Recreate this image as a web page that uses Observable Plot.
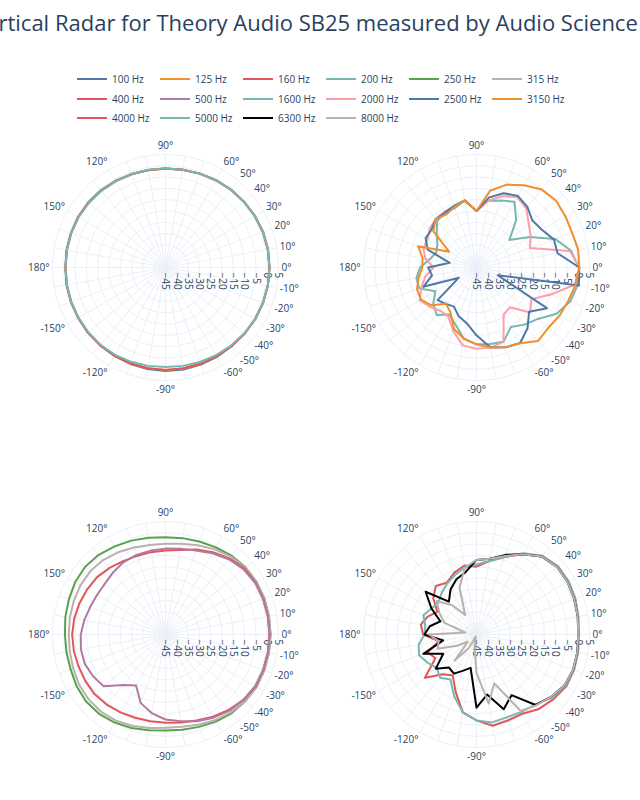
<!DOCTYPE html>
<html>
<head>
<meta charset="utf-8">
<script src="https://cdn.jsdelivr.net/npm/d3@7"></script>
<script src="https://cdn.jsdelivr.net/npm/@observablehq/plot@0.6"></script>
<style>
  html, body { margin: 0; padding: 0; background: #fff; overflow: hidden; }
  #root { position: relative; width: 640px; height: 800px; overflow: hidden; font-family: "Open Sans", sans-serif; color: #2a3f5f; }
  #title { position: absolute; left: -27px; top: 7px; font-size: 22px; white-space: nowrap; color: #2a3f5f; }
  .leg { position: absolute; display: flex; align-items: center; font-size: 10px; white-space: nowrap; }
  .leg svg { margin-right: 5px; }
  .panel { position: absolute; }
</style>
</head>
<body>
<div id="root">
  <div id="title">Vertical Radar for Theory Audio SB25 measured by Audio Science Review</div>
</div>
<script>
// ---------------- data ----------------
const angles = [0,10,20,30,40,50,60,70,80,90,100,110,120,130,140,150,160,170,180,190,200,210,220,230,240,250,260,270,280,290,300,310,320,330,340,350];

const frequencies = ["100 Hz","125 Hz","160 Hz","200 Hz","250 Hz","315 Hz","400 Hz","500 Hz","1600 Hz","2000 Hz","2500 Hz","3150 Hz","4000 Hz","5000 Hz","6300 Hz","8000 Hz"];
const colors = ["#4E79A7","#F28E2B","#E15759","#76B7B2","#59A14F","#BAB0AC","#E15759","#B07AA1","#76B7B2","#FF9DA7","#4E79A7","#F28E2B","#E15759","#76B7B2","#000000","#BAB0AC"];

const hz100  = [1,1,0.9,0.6,0.3,0,-0.4,-0.8,-1.1,-1.2,-1.2,-1.1,-0.9,-0.7,-0.5,-0.4,-0.5,-0.6,-0.7,-0.6,-0.5,-0.4,-0.2,0,0.2,0.4,0.6,0.8,0.8,0.7,0.6,0.5,0.6,0.8,0.9,1];
const hz125  = [1,1,0.9,0.6,0.3,0,-0.4,-0.8,-1.1,-1.3,-1.3,-1.1,-0.9,-0.7,-0.5,-0.5,-0.6,-0.7,-0.8,-0.7,-0.6,-0.5,-0.3,-0.1,0.1,0.2,0.3,0.3,0.4,0.4,0.4,0.4,0.6,0.8,0.9,1];
const hz160  = [1,1.1,1,0.7,0.3,0,-0.4,-0.8,-1.1,-1.2,-1.2,-1,-0.7,-0.4,-0.3,-0.3,-0.5,-0.6,-0.7,-0.6,-0.5,-0.4,-0.2,0,0.1,0.2,0.3,0.3,0.3,0.3,0.4,0.4,0.6,0.8,0.9,1];
const hz200  = [1,1,0.9,0.6,0.3,0,-0.4,-0.8,-1.1,-1.1,-1.1,-1,-0.9,-0.7,-0.6,-0.5,-0.6,-0.7,-0.7,-0.7,-0.6,-0.5,-0.4,-0.3,-0.4,-0.6,-0.8,-1,-0.8,-0.5,-0.2,0.1,0.5,0.8,0.9,1];

const hz250  = [1.5,1.5,1.6,1.5,1.2,0.5,-0.5,-1.2,-1.7,-2,-1.5,-0.8,0,1,1.5,1.2,0.5,0,-0.5,-0.5,-0.3,0.5,1,0.8,0,-1,-2,-2.5,-2.2,-1.5,-0.5,0.5,1,1.5,1.5,1.5];
const hz315  = [1.5,1.5,1.5,1.5,1,0,-1.5,-3,-4.2,-4.8,-4.8,-4,-3,-2,-1.5,-1.5,-1.8,-2,-2.2,-2,-1.5,-0.8,-0.5,-0.5,-1,-2,-3,-3.7,-3.5,-2.5,-1.2,0,1,1.5,1.5,1.5];
const hz400  = [1,1,1,1,0.5,-1,-3,-5,-7,-7.8,-8,-8,-7.5,-6.5,-5.5,-5,-4.5,-4,-3.7,-3.8,-4,-4,-4,-4.5,-5.2,-5.8,-6,-6,-5.5,-4.5,-3,-1.5,0,1,1,1];
const hz500  = [1,1,1,0.8,0,-1.5,-3.5,-5.5,-6.5,-7,-7.3,-7.5,-8,-9,-10,-10,-9.5,-8.5,-7.5,-7,-7,-8,-9.3,-15.8,-19,-12.8,-9.7,-7.4,-6,-4.2,-2.5,-1,0,0.8,1,1];

const hz1600 = [0.3,-2.5,-8,-18,-26,-17.7,-11.4,-13.5,-15,-20,-15,-17,-17,-18,-22,-25,-26,-24,-20,-18,-18,-24,-20,-17.6,-21,-18,-13,-11,-10.6,-10,-14.6,-12,-9.6,-4.1,-0.9,0.4];
const hz2000 = [0.5,-3,-19.8,-17.3,-14.8,-10.8,-9,-11.4,-15,-20,-14.8,-16.2,-16.5,-17,-18,-20,-20,-22,-26,-22,-19,-16,-18,-20,-20,-15,-10,-9,-9,-10,-21,-22,-14,-17,-10,-1];
const hz2500 = [0.5,-8.6,-8.6,-11.6,-12.7,-10,-8.4,-10,-13.6,-20,-14.8,-16,-17,-17,-19,-19,-22,-33,-23.6,-25,-20,-36,-22.5,-24,-25,-22,-20,-15,-9.1,-7.4,-6.4,-9.9,-14.6,-9,-35,1];
const hz3150 = [0.5,0.7,0,0.4,1,0,-3,-6,-10.5,-20,-14.8,-16.5,-18,-17,-20,-31,-17.5,-20.8,-21,-19,-17,-16.6,-19,-24,-22,-16,-13,-11,-9.1,-7.5,-6.3,-2.6,-3.5,-2.5,-1.8,-0.5];

const hz4000 = [0.3,0.7,1.5,2,2,0,-4,-8.5,-12,-15,-14,-16,-18.6,-17,-20,-25,-22,-20,-21.4,-28,-22,-24,-15.2,-22,-24,-18,-10,-7,-4,-4.5,-4.5,-2,-0.5,0.9,0.9,0.6];
const hz5000 = [0.3,0.7,1.5,2,2,0.5,-3.5,-8.5,-12,-14,-15,-17,-19,-21,-23,-22,-20,-22,-22,-19,-18,-20,-22,-20,-22,-16,-10,-7,-5.5,-6,-5.5,-4.5,-1.5,0.5,0.9,0.6];
const hz6300 = [0,0.5,1,1.5,1.5,0,-4,-7.5,-11,-12,-17,-19,-22,-26,-15.6,-22,-28,-24,-22,-30,-20,-28,-21.5,-26,-25,-28,-30,-12.6,-18,-9.8,-14,-4.3,-2,0,0.5,0.3];
const hz8000 = [0,0.5,1,1.5,1.5,0,-4,-8,-11,-12,-15,-23,-35,-28,-22,-26,-30,-40,-24,-28,-26.7,-35,-40,-30,-38,-44,-40,-28,-14,-22,-6,-4,-2,0,0.5,0.3];

const panels = [
  [["100 Hz", hz100], ["125 Hz", hz125], ["160 Hz", hz160], ["200 Hz", hz200]],
  [["1600 Hz", hz1600], ["2000 Hz", hz2000], ["2500 Hz", hz2500], ["3150 Hz", hz3150]],
  [["250 Hz", hz250], ["315 Hz", hz315], ["400 Hz", hz400], ["500 Hz", hz500]],
  [["4000 Hz", hz4000], ["5000 Hz", hz5000], ["6300 Hz", hz6300], ["8000 Hz", hz8000]]
];

const radialTicks = [-45,-40,-35,-30,-25,-20,-15,-10,-5,0,5];
const angularTicks = [0,10,20,30,40,50,60,90,120,150,180,210,240,270,300,310,320,330,340,350];
const angularGrid = [0,10,20,30,40,50,60,70,80,90,100,110,120,130,140,150,160,170,180,190,200,210,220,230,240,250,260,270,280,290,300,310,320,330,340,350];

// ---------------- layout ----------------
const rMin = -45, rMax = 5;
const k = 2.26;               // px per dB
const W = 300, H = 290;
const centers = [[165, 266.5], [475.5, 266.5], [165, 633.5], [475.5, 633.5]];
const gridColor = "#EBF0F8";
const textColor = "#2a3f5f";
const colorOf = Object.fromEntries(frequencies.map((f, i) => [f, colors[i]]));
const rad = a => a * Math.PI / 180;

function polarPanel(series) {
  const rows = series.flatMap(([name, vals]) => vals.map((v, i) => {
    const r = Math.max(0, v - rMin);
    return {name, x: r * Math.cos(rad(angles[i])), y: r * Math.sin(rad(angles[i]))};
  }));
  const circles = radialTicks.filter(t => t > rMin).flatMap(t =>
    d3.range(0, 361, 2).map(a => ({t, x: (t - rMin) * Math.cos(rad(a)), y: (t - rMin) * Math.sin(rad(a))})));
  const R = rMax - rMin;
  const spokes = angularGrid.map(a => ({x2: R * Math.cos(rad(a)), y2: R * Math.sin(rad(a))}));
  const labs = angularTicks.map(a => ({
    a, label: (a <= 180 ? a : a - 360) + "°",
    c: Math.cos(rad(a)),
    x: 116 * Math.cos(rad(a)) / k, y: 122 * Math.sin(rad(a)) / k
  }));
  const rl = radialTicks.map(t => ({x: t - rMin, y: 0, label: String(t).replace("-", "\u2212")}));
  return Plot.plot({
    width: W, height: H, margin: 0,
    x: {domain: [-W / 2 / k, W / 2 / k], axis: null},
    y: {domain: [-H / 2 / k, H / 2 / k], axis: null},
    style: {fontFamily: "Open Sans, sans-serif", fontSize: "10px", color: textColor, background: "transparent", overflow: "visible"},
    marks: [
      Plot.link(spokes, {x1: 0, y1: 0, x2: "x2", y2: "y2", stroke: gridColor, strokeWidth: 1}),
      Plot.line(circles, {x: "x", y: "y", z: "t", stroke: gridColor, strokeWidth: 1}),
      Plot.text(rl, {x: "x", y: "y", text: "label", rotate: 90, textAnchor: "start", dy: 5, fill: textColor, fontSize: 10}),
      Plot.line(rows, {x: "x", y: "y", z: "name", stroke: d => colorOf[d.name], strokeWidth: 2, curve: "linear-closed"}),
      Plot.text(labs.filter(d => d.c > 0.01), {x: "x", y: "y", text: "label", textAnchor: "start", fill: textColor, fontSize: 10}),
      Plot.text(labs.filter(d => d.c < -0.01), {x: "x", y: "y", text: "label", textAnchor: "end", fill: textColor, fontSize: 10}),
      Plot.text(labs.filter(d => Math.abs(d.c) <= 0.01), {x: "x", y: "y", text: "label", textAnchor: "middle", fill: textColor, fontSize: 10})
    ]
  });
}

const root = document.getElementById("root");

// legend
frequencies.forEach((f, i) => {
  const col = i % 6, row = Math.floor(i / 6);
  const div = document.createElement("div");
  div.className = "leg";
  div.style.left = (77 + col * 83) + "px";
  div.style.top = (79 + row * 19.5 - 8) + "px";
  div.style.height = "16px";
  div.innerHTML = `<svg width="30" height="16"><line x1="0" x2="30" y1="8" y2="8" stroke="${colors[i]}" stroke-width="2"/></svg><span>${f}</span>`;
  root.appendChild(div);
});

// panels
panels.forEach((series, i) => {
  const chart = polarPanel(series);
  chart.classList.add("panel");
  chart.style.left = (centers[i][0] - W / 2) + "px";
  chart.style.top = (centers[i][1] - H / 2) + "px";
  root.appendChild(chart);
});
</script>
</body>
</html>
